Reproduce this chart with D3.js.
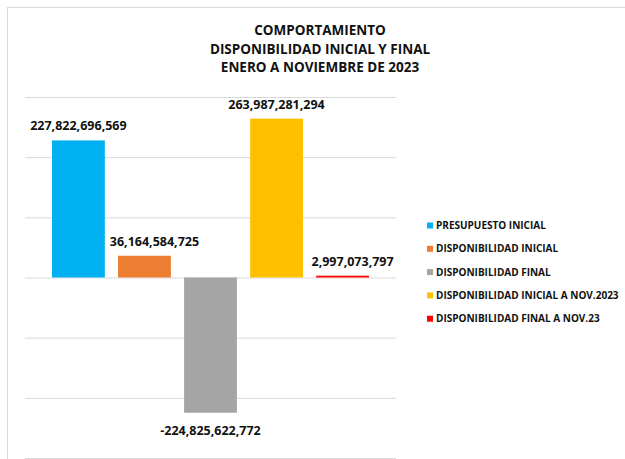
<!DOCTYPE html>
<html>
<head>
<meta charset="utf-8">
<script src="https://cdn.jsdelivr.net/npm/d3@7"></script>
<style>
  html, body { margin: 0; padding: 0; background: #fff; }
  svg { display: block; font-family: "Open Sans", sans-serif; font-weight: bold; }
</style>
</head>
<body>
<div class="chart"></div>
<script>
// chart data
const series = [
  "PRESUPUESTO INICIAL",
  "DISPONIBILIDAD INICIAL",
  "DISPONIBILIDAD FINAL",
  "DISPONIBILIDAD INICIAL A NOV.2023",
  "DISPONIBILIDAD FINAL A NOV.23"
];
const values = [227822696569, 36164584725, -224825622772, 263987281294, 2997073797];
const colors = ["#00B0F0", "#ED7D31", "#A5A5A5", "#FFC000", "#FF0000"];
const titleLines = [
  "COMPORTAMIENTO",
  "DISPONIBILIDAD INICIAL Y FINAL",
  "ENERO A NOVIEMBRE DE 2023"
];
const gridValues = [-300e9, -200e9, -100e9, 0, 100e9, 200e9, 300e9];

const width = 625;
const height = 459;

const fmt = d3.formatLocale({
  decimal: ".", thousands: ",", grouping: [3], currency: ["$", ""], minus: "-"
}).format(",");

const svg = d3.select(".chart")
  .append("svg")
  .attr("width", width)
  .attr("height", height);

// chart area border
svg.append("rect")
  .attr("x", 7.5)
  .attr("y", 7.5)
  .attr("width", 640)
  .attr("height", 480)
  .attr("fill", "#fff")
  .attr("stroke", "#d9d9d9");

// title
const title = svg.append("g").attr("fill", "#111");
title.selectAll("text")
  .data(titleLines)
  .join("text")
  .attr("x", 320)
  .attr("y", (d, i) => 35 + i * 18.5)
  .attr("text-anchor", "middle")
  .attr("font-size", 13.5)
  .text(d => d);

// scales
const x = d3.scaleBand()
  .domain(series)
  .range([52, 369])
  .paddingInner(0.2)
  .paddingOuter(0);

const y = d3.scaleLinear()
  .domain([-300e9, 300e9])
  .range([458, 97]);

// gridlines
const grid = svg.append("g")
  .attr("transform", "translate(25,0)")
  .call(d3.axisLeft(y).tickValues(gridValues).tickSize(-371).tickFormat(""));
grid.select(".domain").remove();
grid.selectAll(".tick line").attr("stroke", "#d9d9d9");

// bars
svg.append("g")
  .selectAll("rect")
  .data(values)
  .join("rect")
  .attr("x", (d, i) => x(series[i]))
  .attr("width", x.bandwidth())
  .attr("y", d => y(Math.max(0, d)))
  .attr("height", d => Math.max(1.5, Math.abs(y(d) - y(0))))
  .attr("fill", (d, i) => colors[i]);

// data labels (short bars get their label nudged right, as in the original)
svg.append("g")
  .attr("fill", "#111")
  .selectAll("text")
  .data(values)
  .join("text")
  .attr("x", (d, i) => x(series[i]) + x.bandwidth() / 2 + (Math.abs(y(d) - y(0)) < 30 ? 10 : 0))
  .attr("y", d => d >= 0 ? y(d) - 10 : y(d) + 22)
  .attr("text-anchor", "middle")
  .attr("font-size", 12.5)
  .text(d => fmt(d));

// legend
const legend = svg.append("g")
  .attr("transform", "translate(427,229)")
  .selectAll("g")
  .data(series)
  .join("g")
  .attr("transform", (d, i) => `translate(0,${i * 23.3})`);

legend.append("rect")
  .attr("x", 0)
  .attr("y", -6.5)
  .attr("width", 6)
  .attr("height", 6)
  .attr("fill", (d, i) => colors[i]);

legend.append("text")
  .attr("x", 9)
  .attr("y", 0)
  .attr("font-size", 10)
  .attr("fill", "#111")
  .text(d => d);
</script>
</body>
</html>
